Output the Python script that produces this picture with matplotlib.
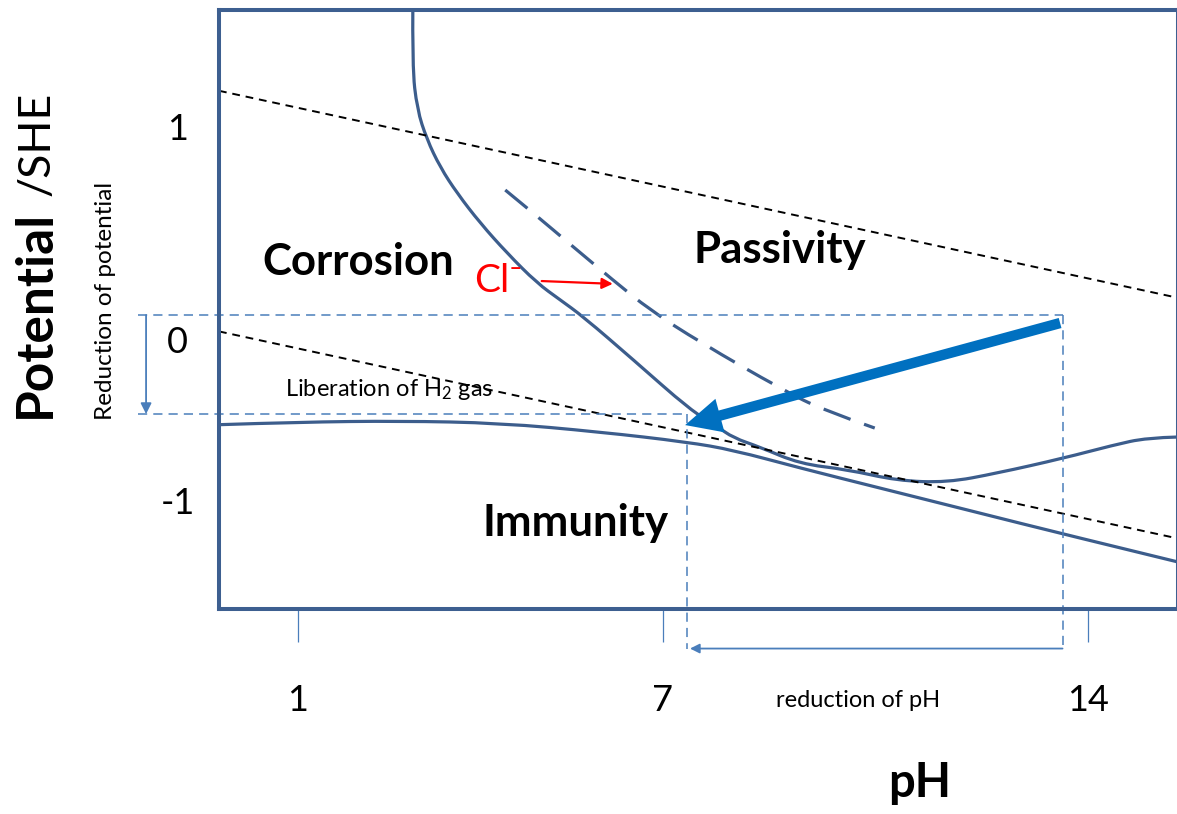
import matplotlib
matplotlib.use("Agg")
import matplotlib.pyplot as plt
from matplotlib.path import Path
from matplotlib.patches import PathPatch

plt.rcParams["font.family"] = ["Lato", "DejaVu Sans"]
plt.rcParams["mathtext.fontset"] = "custom"
plt.rcParams["mathtext.rm"] = "Lato"
plt.rcParams["mathtext.it"] = "Lato:italic"
plt.rcParams["mathtext.bf"] = "Lato:bold"

# axis ranges (pH, potential in V vs SHE)
ph_limits = (-0.30, 15.48)
e_limits = (-1.568, 1.643)
ph_ticks = [1, 7, 14]
e_tick_labels = ["1", "0", "-1"]
e_tick_pos = [1.0, -0.137, -1.0]

# water stability lines
o2_ph = [-0.30, 15.48]
o2_e = [1.21, 0.10]
h2_ph = [-0.30, 15.48]
h2_e = [-0.08, -1.19]

# corrosion / passivity boundary
passive_ph = [2.89, 2.88, 2.96, 3.12, 3.34, 3.62, 4.00, 4.44, 4.93, 5.31, 5.69,
              6.51, 7.45, 7.90, 8.16, 8.60, 9.26, 10.03, 10.86, 11.68, 12.50,
              13.59, 14.41, 14.97, 15.48]
passive_e = [1.70, 1.34, 1.11, 0.95, 0.80, 0.66, 0.50, 0.34, 0.18, 0.09, 0.00,
             -0.23, -0.50, -0.59, -0.65, -0.70, -0.79, -0.82, -0.88, -0.89, -0.84,
             -0.76, -0.69, -0.65, -0.646]

# immunity boundary
immune_ph = [-0.30, 1.03, 2.68, 4.32, 5.97, 7.40, 8.16, 9.26, 10.58, 12.22, 13.59, 15.48]
immune_e = [-0.58, -0.566, -0.56, -0.571, -0.619, -0.673, -0.716, -0.812, -0.92,
            -1.054, -1.166, -1.316]

# boundary shifted by chloride
cl_ph = [4.41, 4.87, 5.53, 6.18, 6.79, 7.61, 8.98, 9.64, 10.49]
cl_e = [0.678, 0.555, 0.373, 0.196, 0.035, -0.137, -0.394, -0.501, -0.598]

# carbonation path
path_start = (13.54, -0.035)
path_end = (7.37, -0.582)
cl_arrow_start = (5.01, 0.19)
cl_arrow_end = (6.18, 0.175)

# guide lines
guide_ph_left = -1.63
guide_ph_high = 13.58
guide_ph_low = 7.40
guide_e_high = 0.008
guide_e_low = -0.523
guide_e_bottom = -1.78
pot_arrow_ph = -1.50

region_labels = ["Corrosion", "Passivity", "Immunity"]
region_ph = [1.99, 8.93, 5.56]
region_e = [0.292, 0.357, -1.107]

frame_col = "#3d5f90"
curve_col = "#3c5d8c"
guide_col = "#4a7ebb"
path_col = "#0070c0"


def smooth_path(xs, ys):
    # quadratic spline through the midpoints, just to draw it round
    pts = list(zip(xs, ys))
    verts = [pts[0]]
    codes = [Path.MOVETO]
    for i in range(1, len(pts) - 1):
        if i < len(pts) - 2:
            end = ((pts[i][0] + pts[i + 1][0]) / 2, (pts[i][1] + pts[i + 1][1]) / 2)
        else:
            end = pts[i + 1]
        verts += [pts[i], end]
        codes += [Path.CURVE3, Path.CURVE3]
    return Path(verts, codes)


fig = plt.figure(figsize=(11.77, 8.14), dpi=100)
ax = fig.add_axes([219 / 1177, 1 - 609 / 814, 959 / 1177, 599 / 814])
ax.set_xlim(*ph_limits)
ax.set_ylim(*e_limits)

for s in ax.spines.values():
    s.set_color(frame_col)
    s.set_linewidth(2.9)
    s.set_zorder(10)

ax.set_xticks(ph_ticks)
ax.set_xticklabels([str(t) for t in ph_ticks], fontsize=26)
ax.tick_params(axis="x", direction="out", length=24, width=0.9, color=guide_col, pad=30)
ax.set_yticks([])

for lab, e in zip(e_tick_labels, e_tick_pos):
    ax.text(-0.98, e, lab, fontsize=26, ha="center", va="center", clip_on=False)

# water lines
ax.plot(o2_ph, o2_e, color="black", lw=1.4, dashes=(4, 3))
ax.plot(h2_ph, h2_e, color="black", lw=1.4, dashes=(4, 3))

# boundaries
ax.add_patch(PathPatch(smooth_path(passive_ph, passive_e), fill=False,
                       edgecolor=curve_col, lw=2.3))
ax.add_patch(PathPatch(smooth_path(immune_ph, immune_e), fill=False,
                       edgecolor=curve_col, lw=2.3))
ax.add_patch(PathPatch(smooth_path(cl_ph, cl_e), fill=False,
                       edgecolor=curve_col, lw=2.3, linestyle=(0, (9, 4.5))))

# guide lines (extend outside the frame)
kw = dict(color=guide_col, lw=1.1, dashes=(6, 4), clip_on=False)
ax.plot([guide_ph_left, guide_ph_high], [guide_e_high, guide_e_high], **kw)
ax.plot([guide_ph_left, guide_ph_low], [guide_e_low, guide_e_low], **kw)
ax.plot([guide_ph_high, guide_ph_high], [guide_e_high, guide_e_bottom], **kw)
ax.plot([guide_ph_low, guide_ph_low], [guide_e_low, guide_e_bottom], **kw)

ax.annotate("", xy=(pot_arrow_ph, guide_e_low), xytext=(pot_arrow_ph, guide_e_high),
            arrowprops=dict(arrowstyle="-|>", color=guide_col, lw=1.3,
                            mutation_scale=16, shrinkA=0, shrinkB=0),
            annotation_clip=False)
ax.annotate("", xy=(guide_ph_low + 0.05, guide_e_bottom), xytext=(guide_ph_high, guide_e_bottom),
            arrowprops=dict(arrowstyle="-|>", color=guide_col, lw=1.3,
                            mutation_scale=14, shrinkA=0, shrinkB=0),
            annotation_clip=False)

# thick path arrow
ax.annotate("", xy=path_end, xytext=path_start,
            arrowprops=dict(arrowstyle="simple,head_length=2.6,head_width=2.5,tail_width=0.75",
                            color=path_col, lw=0, mutation_scale=10, shrinkA=0, shrinkB=0),
            zorder=6)

# chloride arrow
ax.annotate("", xy=cl_arrow_end, xytext=cl_arrow_start,
            arrowprops=dict(arrowstyle="-|>", color="red", lw=1.6,
                            mutation_scale=16, shrinkA=0, shrinkB=0))
ax.text(4.30, 0.19, "Cl\u207b", color="red", fontsize=28, ha="center", va="center", zorder=8)

for lab, x, y in zip(region_labels, region_ph, region_e):
    ax.text(x, y, lab, fontsize=31.5, fontweight="bold", ha="center", va="center")

ax.text(0.79, -0.394, r"Liberation of H$_{\mathrm{2}}$ gas", fontsize=17, ha="left", va="center")
ax.text(10.21, -2.056, "reduction of pH", fontsize=17, ha="center", va="center", clip_on=False)

# axis titles
fig.text(50 / 1177, 1 - 418 / 814, "Potential", fontsize=37, fontweight="bold",
         rotation=90, rotation_mode="anchor", ha="left", va="baseline")
fig.text(50 / 1177, 1 - 196 / 814, "/SHE", fontsize=32,
         rotation=90, rotation_mode="anchor", ha="left", va="baseline")
fig.text(105 / 1177, 1 - 301 / 814, "Reduction of potential", fontsize=17.5,
         rotation=90, ha="center", va="center")
fig.text(920 / 1177, 1 - 783 / 814, "pH", fontsize=34, fontweight="bold",
         ha="center", va="center")

fig.savefig("out.png", dpi=100)
